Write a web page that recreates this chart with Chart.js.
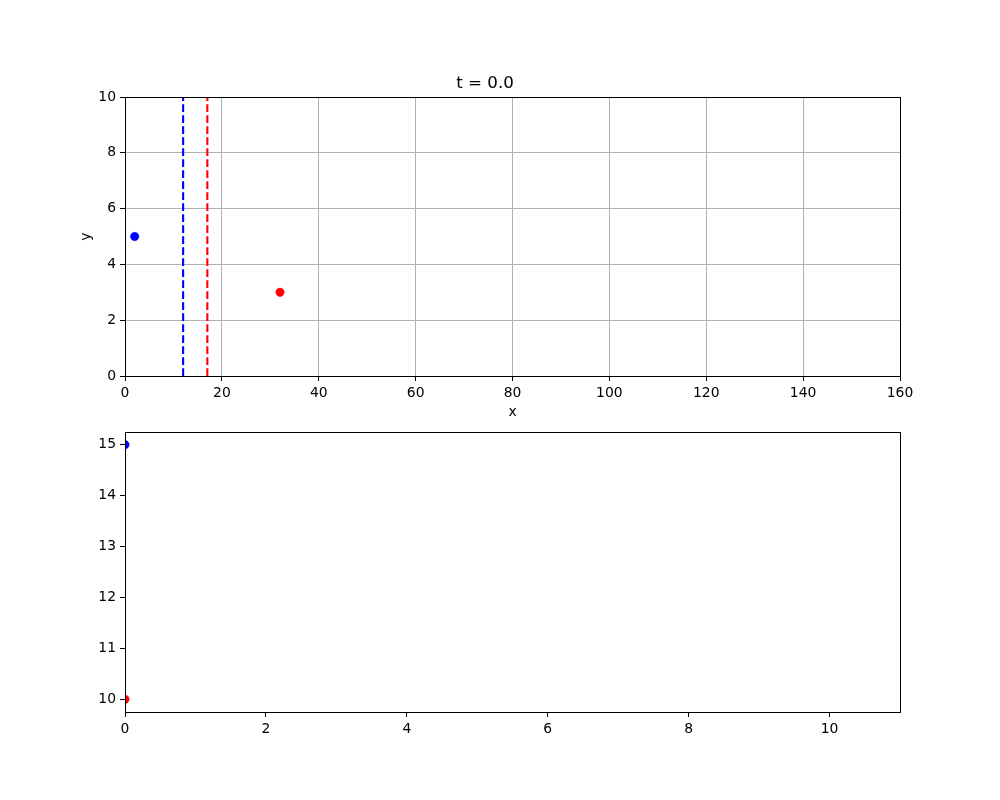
<!DOCTYPE html>
<html>
<head>
<meta charset="utf-8">
<script src="https://cdn.jsdelivr.net/npm/chart.js@4.4.1/dist/chart.umd.min.js"></script>
<style>
  body { margin: 0; background: #fff; }
  #wrap { position: relative; width: 1000px; height: 800px; }
  canvas { position: absolute; left: 0; }
</style>
</head>
<body>
<div id="wrap">
  <canvas id="topChart" width="1000" height="430" style="top:0"></canvas>
  <canvas id="bottomChart" width="1000" height="400" style="top:400px"></canvas>
</div>
<script>
const titleText = 't = 0.0';

// top panel: particle positions and walls
const blueX = [2];
const blueY = [5];
const redX = [32];
const redY = [3];
const blueWallX = 12;
const redWallX = 17;
const topXTicks = [0, 20, 40, 60, 80, 100, 120, 140, 160];
const topYTicks = [0, 2, 4, 6, 8, 10];

// bottom panel: history over time
const timeVals = [0];
const blueHist = [15];
const redHist = [10];
const botXTicks = [0, 2, 4, 6, 8, 10];
const botYTicks = [10, 11, 12, 13, 14, 15];

Chart.defaults.font.family = 'DejaVu Sans';
Chart.defaults.color = '#000';
Chart.defaults.animation = false;

const BLUE = '#0000ff';
const RED = '#ff0000';
const tickFont = { size: 13.9 };

const frame = {
  id: 'frame',
  afterDatasetsDraw(chart) {
    const { ctx, chartArea: a } = chart;
    ctx.save();
    ctx.strokeStyle = '#000';
    ctx.lineWidth = 1;
    ctx.strokeRect(Math.round(a.left) + 0.5, Math.round(a.top) + 0.5,
      Math.round(a.right - a.left), Math.round(a.bottom - a.top));
    ctx.restore();
  }
};

function pts(xs, ys) {
  return xs.map((x, i) => ({ x: x, y: ys[i] }));
}

function dot(data, color) {
  return {
    data: data,
    pointRadius: 4.2,
    pointBackgroundColor: color,
    pointBorderColor: color,
    pointBorderWidth: 0.5,
    showLine: false,
    clip: 0
  };
}

function wall(x, color) {
  return {
    type: 'line',
    data: [{ x: x, y: topYTicks[0] }, { x: x, y: topYTicks[topYTicks.length - 1] }],
    borderColor: color,
    borderWidth: 2.1,
    borderDash: [7.7, 3.3],
    pointRadius: 0,
    showLine: true,
    fill: false
  };
}

new Chart(document.getElementById('topChart'), {
  type: 'scatter',
  data: {
    datasets: [
      wall(blueWallX, BLUE),
      wall(redWallX, RED),
      dot(pts(blueX, blueY), BLUE),
      dot(pts(redX, redY), RED)
    ]
  },
  options: {
    responsive: false,
    layout: { padding: { left: 70, right: 100, top: 0, bottom: 0 } },
    plugins: {
      legend: { display: false },
      tooltip: { enabled: false },
      title: {
        display: true,
        text: titleText,
        font: { size: 16.7, weight: 'normal', lineHeight: 1.2 },
        color: '#000',
        padding: { top: 74, bottom: 3 }
      }
    },
    scales: {
      x: {
        type: 'linear',
        min: 0,
        max: 160,
        afterBuildTicks: s => { s.ticks = topXTicks.map(v => ({ value: v })); },
        afterFit: s => { s.height = 54; },
        ticks: { font: tickFont, padding: 4, maxRotation: 0, autoSkip: false },
        grid: { color: '#b0b0b0', lineWidth: 1, tickColor: '#000', tickLength: 5 },
        border: { color: '#000', width: 1 },
        title: { display: true, text: 'x', font: { size: 13.9, lineHeight: 1.2 }, padding: { top: 4, bottom: 9 } }
      },
      y: {
        type: 'linear',
        min: 0,
        max: 10,
        afterBuildTicks: s => { s.ticks = topYTicks.map(v => ({ value: v })); },
        afterFit: s => { s.width = 55; },
        ticks: { font: tickFont, padding: 4, autoSkip: false },
        grid: { color: '#b0b0b0', lineWidth: 1, tickColor: '#000', tickLength: 5 },
        border: { color: '#000', width: 1 },
        title: { display: true, text: 'y', font: { size: 13.9, lineHeight: 1.2 }, padding: { top: 8, bottom: 4 } }
      }
    }
  },
  plugins: [frame]
});

new Chart(document.getElementById('bottomChart'), {
  type: 'scatter',
  data: {
    datasets: [
      dot(pts(timeVals, blueHist), BLUE),
      dot(pts(timeVals, redHist), RED)
    ]
  },
  options: {
    responsive: false,
    layout: { padding: { left: 0, right: 100, top: 32, bottom: 0 } },
    plugins: {
      legend: { display: false },
      tooltip: { enabled: false }
    },
    scales: {
      x: {
        type: 'linear',
        min: 0,
        max: 11,
        afterBuildTicks: s => { s.ticks = botXTicks.map(v => ({ value: v })); },
        afterFit: s => { s.height = 88; },
        ticks: { font: tickFont, padding: 4, maxRotation: 0, autoSkip: false },
        grid: { color: 'rgba(0,0,0,0)', lineWidth: 1, tickColor: '#000', tickLength: 5 },
        border: { color: '#000', width: 1 }
      },
      y: {
        type: 'linear',
        min: 9.75,
        max: 15.25,
        afterBuildTicks: s => { s.ticks = botYTicks.map(v => ({ value: v })); },
        afterFit: s => { s.width = 125; },
        ticks: { font: tickFont, padding: 4, autoSkip: false },
        grid: { color: 'rgba(0,0,0,0)', lineWidth: 1, tickColor: '#000', tickLength: 5 },
        border: { color: '#000', width: 1 }
      }
    }
  },
  plugins: [frame]
});
</script>
</body>
</html>
